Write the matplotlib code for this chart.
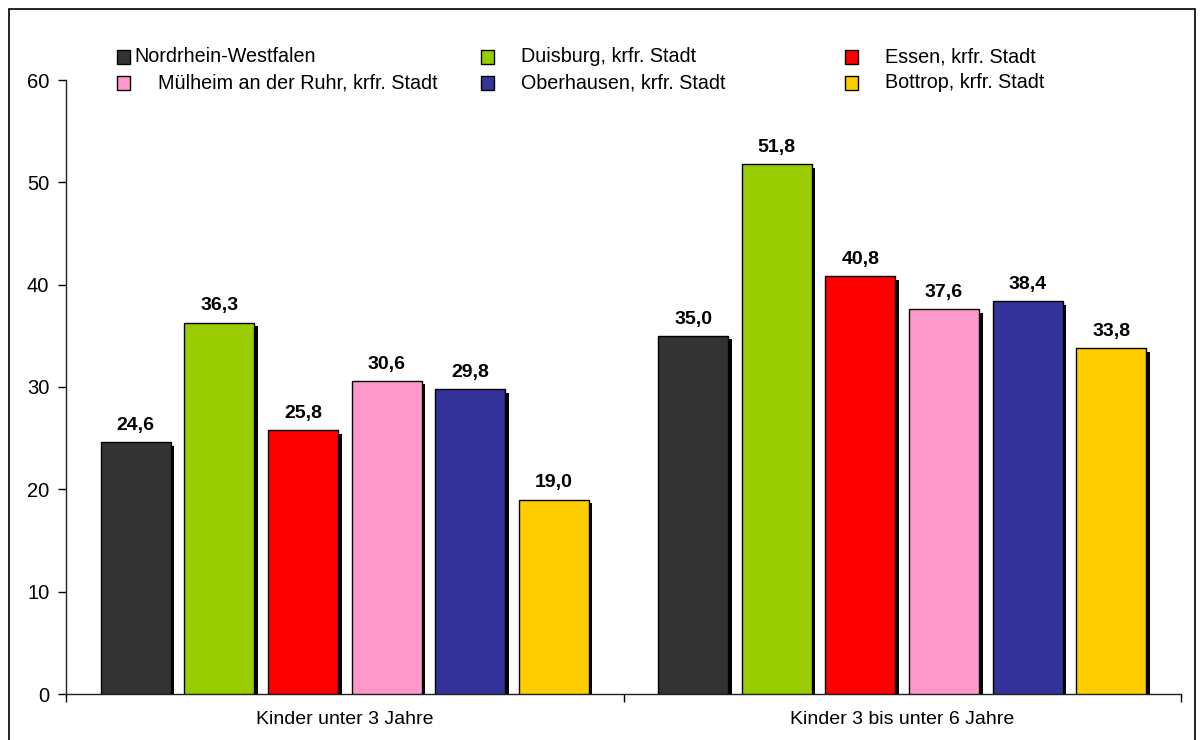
import matplotlib
matplotlib.use("Agg")
import matplotlib.pyplot as plt
import matplotlib.patheffects as pe
from matplotlib.patches import Rectangle
import numpy as np

plt.rcParams['font.family'] = ['Liberation Sans', 'DejaVu Sans']

categories = ["Kinder unter 3 Jahre", "Kinder 3 bis unter 6 Jahre"]
regions = ["Nordrhein-Westfalen", "Duisburg, krfr. Stadt", "Essen, krfr. Stadt",
           "Mülheim an der Ruhr, krfr. Stadt", "Oberhausen, krfr. Stadt", "Bottrop, krfr. Stadt"]
colors = ["#333333", "#99CC00", "#FF0000", "#FF99CC", "#333399", "#FFCC00"]
under3 = [24.6, 36.3, 25.8, 30.6, 29.8, 19.0]
three_to_six = [35.0, 51.8, 40.8, 37.6, 38.4, 33.8]
values = np.array([under3, three_to_six])
y_ticks = [0, 10, 20, 30, 40, 50, 60]

fig = plt.figure(figsize=(12, 7.4), dpi=100)
ax = fig.add_axes([66/1200, 46/740, (1181-66)/1200, (694-80)/740])

pitch = 0.15
width = 0.1256
n = len(regions)
shadow = [pe.SimplePatchShadow(offset=(2.6, -2.6), shadow_rgbFace='black', alpha=1.0), pe.Normal()]
for i, (name, col) in enumerate(zip(regions, colors)):
    xs = np.arange(len(categories)) + 0.5 + (i - (n - 1) / 2) * pitch
    bars = ax.bar(xs, values[:, i], width=width, color=col, edgecolor='black',
                  linewidth=1.0, zorder=3)
    for b in bars:
        b.set_path_effects(shadow)
    for x, v in zip(xs, values[:, i]):
        ax.annotate(f"{v:.1f}".replace('.', ','), (x, v), xytext=(0, 6),
                    textcoords='offset points', ha='center', va='bottom',
                    fontsize=14, fontweight='bold', zorder=4)

ax.set_xlim(0, len(categories))
ax.set_ylim(0, 60)
ax.set_yticks(y_ticks)
ax.set_xticks([0, 1, 2])
ax.set_xticklabels([])
ax.set_xticks([0.5, 1.5], minor=True)
ax.set_xticklabels(categories, minor=True, fontsize=14)
ax.tick_params(axis='x', which='minor', length=0, pad=12)
ax.tick_params(axis='x', which='major', length=6, direction='out', width=1)
ax.tick_params(axis='y', length=6, direction='out', width=1, labelsize=14.5, pad=6)
for s in ['top', 'right']:
    ax.spines[s].set_visible(False)
for s in ['left', 'bottom']:
    ax.spines[s].set_linewidth(1.0)
    ax.spines[s].set_color('#222222')

# legend drawn by hand in three columns
leg_rows = [57, 83]
marker_x = [117, 481, 845]
text_x = [[134, 521, 885], [158, 521, 885]]
for k, (name, col) in enumerate(zip(regions, colors)):
    r, c = divmod(k, 3)
    yc = 740 - leg_rows[r]
    fig.patches.append(Rectangle((marker_x[c] / 1200, (yc - 6.5) / 740), 13 / 1200, 13 / 740,
                                 transform=fig.transFigure, facecolor=col,
                                 edgecolor='black', linewidth=1.0))
    fig.text(text_x[r][c] / 1200, yc / 740, name, fontsize=14.2, va='center', ha='left')

# outer frame
fig.patches.append(Rectangle((9 / 1200, -0.05), (1195 - 9) / 1200, (740 - 9) / 740 + 0.05,
                             transform=fig.transFigure, fill=False,
                             edgecolor='black', linewidth=1.2))

fig.savefig("out.png", dpi=100)
